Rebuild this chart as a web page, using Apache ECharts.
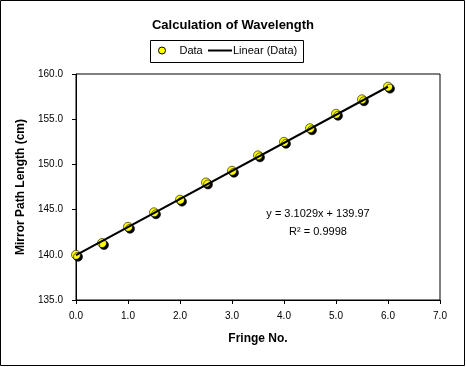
<!DOCTYPE html>
<html>
<head>
<meta charset="utf-8">
<script src="https://cdn.jsdelivr.net/npm/echarts@6/dist/echarts.min.js"></script>
<style>
html,body{margin:0;padding:0;background:#fff;}
#chart{width:466px;height:367px;}
</style>
</head>
<body>
<div id="chart"></div>
<script>
// Data
var fringeNo = [0.0, 0.5, 1.0, 1.5, 2.0, 2.5, 3.0, 3.5, 4.0, 4.5, 5.0, 5.5, 6.0];
var pathLength = [140.0, 141.3, 143.1, 144.7, 146.1, 148.0, 149.3, 151.0, 152.5, 154.0, 155.6, 157.2, 158.6];
// Linear trendline endpoints (y = 3.1029x + 139.97)
var trendX = [0, 6];
var trendY = [139.97, 158.59];
var equationText = 'y = 3.1029x + 139.97';
var r2Text = 'R\u00B2 = 0.9998';
var xTicks = [0, 7, 1];
var yTicks = [135, 160, 5];

var FONT = '"Liberation Sans", Arial, sans-serif';
var chart = echarts.init(document.getElementById('chart'), null, {renderer: 'canvas'});

var scatterData = fringeNo.map(function (x, i) { return [x, pathLength[i]]; });
var trendData = trendX.map(function (x, i) { return [x, trendY[i]]; });

chart.setOption({
  backgroundColor: '#ffffff',
  animation: false,
  textStyle: {fontFamily: FONT},
  title: {
    text: 'Calculation of Wavelength',
    left: 'center',
    top: 14,
    textStyle: {fontFamily: FONT, fontSize: 13, fontWeight: 'bold', color: '#000'}
  },
  legend: [
    {
      left: 158,
      top: 45,
      padding: 0,
      itemWidth: 17,
      itemHeight: 7,
      textStyle: {fontFamily: FONT, fontSize: 11, color: '#000', padding: [0, 0, 0, 4]},
      data: [{name: 'Data', icon: 'circle',
        itemStyle: {color: '#ffff00', borderColor: '#000', borderWidth: 1, shadowBlur: 0, shadowOffsetX: 0, shadowOffsetY: 0}}]
    },
    {
      left: 208,
      top: 45,
      padding: 0,
      itemWidth: 24,
      itemHeight: 2,
      textStyle: {fontFamily: FONT, fontSize: 11, color: '#000', padding: [0, 0, 0, -4]},
      data: [{name: 'Linear (Data)', icon: 'path://M0,0 L24,0 L24,2 L0,2 Z', itemStyle: {color: '#000', borderWidth: 0}}]
    }
  ],
  grid: {
    left: 76,
    right: 26,
    top: 74,
    bottom: 67,
    show: true,
    borderColor: '#000',
    borderWidth: 1,
    backgroundColor: '#fff'
  },
  xAxis: {
    type: 'value',
    min: xTicks[0],
    max: xTicks[1],
    interval: xTicks[2],
    name: 'Fringe No.',
    nameLocation: 'middle',
    nameGap: 33,
    nameTextStyle: {fontFamily: FONT, fontSize: 12, fontWeight: 'bold', color: '#000'},
    axisLine: {show: true, onZero: false, lineStyle: {color: '#000', width: 1}},
    axisTick: {show: true, inside: false, length: 4, lineStyle: {color: '#000'}},
    axisLabel: {fontFamily: FONT, fontSize: 10, color: '#000', margin: 11,
      formatter: function (v) { return v.toFixed(1); }},
    splitLine: {show: false}
  },
  yAxis: {
    type: 'value',
    min: yTicks[0],
    max: yTicks[1],
    interval: yTicks[2],
    name: 'Mirror Path Length (cm)',
    nameLocation: 'middle',
    nameGap: 39,
    nameTextStyle: {fontFamily: FONT, fontSize: 12, fontWeight: 'bold', color: '#000'},
    axisLine: {show: true, onZero: false, lineStyle: {color: '#000', width: 1}},
    axisTick: {show: true, inside: false, length: 4, lineStyle: {color: '#000'}},
    axisLabel: {fontFamily: FONT, fontSize: 10, color: '#000', margin: 13,
      formatter: function (v) { return v.toFixed(1); }},
    splitLine: {show: false}
  },
  series: [
    {
      name: 'Data',
      type: 'scatter',
      data: scatterData,
      symbol: 'circle',
      symbolSize: 9,
      itemStyle: {
        color: '#ffff00',
        borderColor: '#000',
        borderWidth: 0.6,
        shadowColor: '#000',
        shadowBlur: 0,
        shadowOffsetX: 2,
        shadowOffsetY: 2,
        opacity: 1
      },
      z: 2
    },
    {
      name: 'Linear (Data)',
      type: 'line',
      data: trendData,
      symbol: 'none',
      lineStyle: {color: '#000', width: 2},
      itemStyle: {color: '#000'},
      z: 3
    }
  ],
  graphic: [
    {
      type: 'rect',
      shape: {x: 0.5, y: 0.5, width: 464, height: 365},
      style: {fill: 'none', stroke: '#000', lineWidth: 1},
      silent: true,
      z: 100
    },
    {
      type: 'rect',
      shape: {x: 150.5, y: 40.5, width: 153, height: 22},
      style: {fill: 'none', stroke: '#000', lineWidth: 1},
      silent: true,
      z: 100
    },
    {
      type: 'text',
      x: 318,
      y: 214,
      style: {text: equationText, font: '11px ' + FONT, fill: '#000', textAlign: 'center', textVerticalAlign: 'middle'},
      z: 100
    },
    {
      type: 'text',
      x: 318,
      y: 232,
      style: {text: r2Text, font: '11px ' + FONT, fill: '#000', textAlign: 'center', textVerticalAlign: 'middle'},
      z: 100
    }
  ]
});
</script>
</body>
</html>
